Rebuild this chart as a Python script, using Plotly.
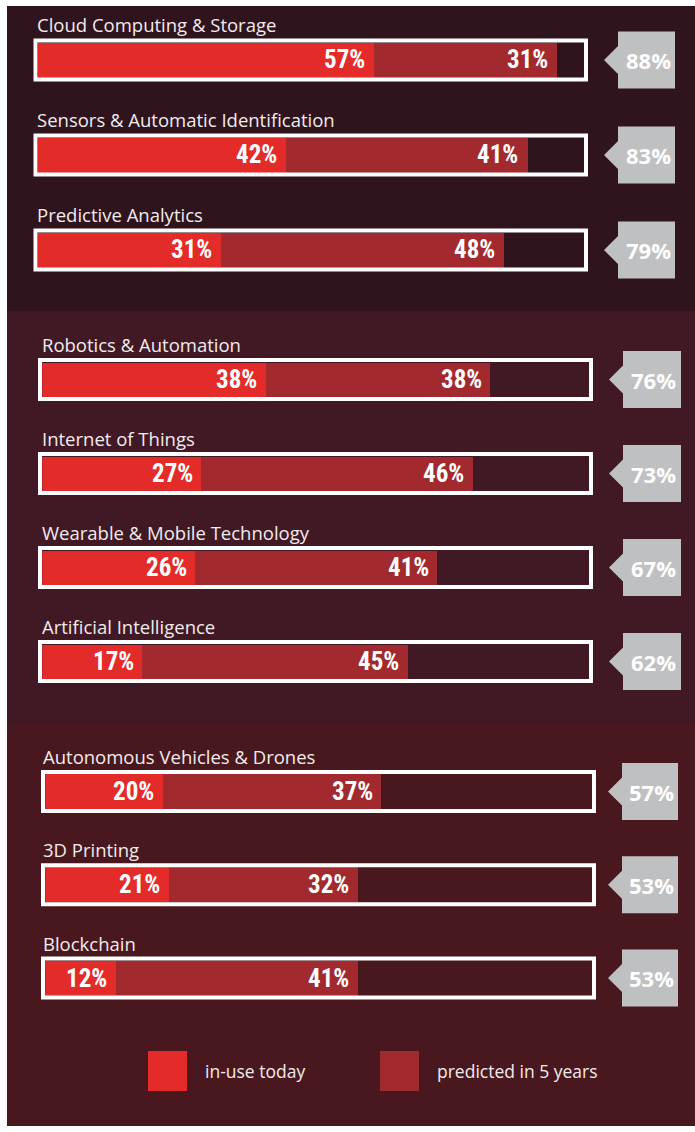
import plotly.graph_objects as go

# ---------------- data ----------------
categories = [
    "Cloud Computing & Storage",
    "Sensors & Automatic Identification",
    "Predictive Analytics",
    "Robotics & Automation",
    "Internet of Things",
    "Wearable & Mobile Technology",
    "Artificial Intelligence",
    "Autonomous Vehicles & Drones",
    "3D Printing",
    "Blockchain",
]
in_use_today = [57, 42, 31, 38, 27, 26, 17, 20, 21, 12]
predicted_in_5_years = [31, 41, 48, 38, 46, 41, 45, 37, 32, 41]
totals = [88, 83, 79, 76, 73, 67, 62, 57, 53, 53]
group_sizes = [3, 4, 3]
legend_labels = ["in-use today", "predicted in 5 years"]

# ---------------- style / geometry ----------------
W, H = 695, 1132
RED = "#e32b2a"
DARK_RED = "#a2292d"
TAG_GREY = "#bfc0c2"
LABEL_COLOR = "#f1ebec"
PX_PER_PCT = 5.9
BAR_PX = 35
LABEL_FONT = "Open Sans, Noto Sans, sans-serif"
VALUE_FONT = "Liberation Sans Narrow, Roboto Condensed, Arial Narrow, Roboto, sans-serif"

panels = [
    dict(top=6, bottom=311, bg="#2f141e", box_l=33.5, box_r=588, label_x=35,
         tag_l=618, tag_r=675, first=60, step=95),
    dict(top=311, bottom=724, bg="#401925", box_l=38, box_r=593, label_x=39.5,
         tag_l=623, tag_r=681, first=379.5, step=94),
    dict(top=724, bottom=1126, bg="#49181e", box_l=41, box_r=596, label_x=41,
         tag_l=622, tag_r=678, first=791.5, step=93.3),
]


def fx(px):
    return px / W


def fy(py):
    return 1 - py / H


fig = go.Figure()
shapes = []
annotations = []

start = 0
for i, (p, n) in enumerate(zip(panels, group_sizes)):
    k = "" if i == 0 else str(i + 1)
    cats = categories[start:start + n]
    a = in_use_today[start:start + n]
    b = predicted_in_5_years[start:start + n]
    t = totals[start:start + n]
    start += n

    inner_l = p["box_l"] + 4.2
    xdom = [fx(inner_l), fx(inner_l + 100 * PX_PER_PCT)]
    top_px = p["first"] - p["step"] / 2
    bot_px = p["first"] + (n - 1) * p["step"] + p["step"] / 2
    ydom = [fy(bot_px), fy(top_px)]

    fig.add_trace(go.Bar(x=a, y=cats, orientation="h", marker=dict(color=RED, line=dict(width=0)),
                         width=BAR_PX / p["step"], xaxis="x" + k, yaxis="y" + k,
                         showlegend=False, hoverinfo="skip", name=legend_labels[0]))
    fig.add_trace(go.Bar(x=b, y=cats, orientation="h", marker=dict(color=DARK_RED, line=dict(width=0)),
                         width=BAR_PX / p["step"], xaxis="x" + k, yaxis="y" + k,
                         showlegend=False, hoverinfo="skip", name=legend_labels[1]))

    fig.update_layout({
        "xaxis" + k: dict(domain=xdom, range=[0, 100], visible=False, fixedrange=True,
                          anchor="y" + k),
        "yaxis" + k: dict(domain=ydom, type="category", categoryorder="array",
                          categoryarray=cats, range=[n - 0.5, -0.5], visible=False,
                          fixedrange=True, anchor="x" + k),
    })

    # panel background
    shapes.append(dict(type="rect", xref="paper", yref="paper", x0=fx(7), x1=1,
                       y0=fy(p["bottom"]), y1=fy(p["top"]), fillcolor=p["bg"],
                       line=dict(width=0), layer="below"))

    for c, va, vb, vt in zip(cats, a, b, t):
        # white frame around the bar
        shapes.append(dict(type="rect", xref="paper", yref="y" + k, ysizemode="pixel",
                           yanchor=c, y0=-19.5, y1=19.5,
                           x0=fx(p["box_l"] + 2), x1=fx(p["box_r"] - 2),
                           line=dict(color="white", width=4), fillcolor="rgba(0,0,0,0)",
                           layer="above"))
        # grey tag with arrow
        tw = p["tag_r"] - p["tag_l"]
        shapes.append(dict(type="path", xref="paper", yref="y" + k,
                           xsizemode="pixel", ysizemode="pixel",
                           xanchor=fx(p["tag_l"]), yanchor=c,
                           path=f"M0,-28.5 H{tw} V28.5 H0 V14 L-14,0 L0,-14 Z",
                           fillcolor=TAG_GREY, line=dict(width=0), layer="above"))
        annotations.append(dict(xref="paper", yref="y" + k, x=fx((p["tag_l"] + p["tag_r"]) / 2 + 1.5),
                                y=c, text=f"{vt}%", showarrow=False, xanchor="center",
                                yanchor="middle",
                                font=dict(family=LABEL_FONT, size=22, color="white", weight="bold")))
        # category label above the frame
        annotations.append(dict(xref="paper", yref="y" + k, x=fx(p["label_x"]), y=c,
                                yshift=35, text=c, showarrow=False, xanchor="left",
                                yanchor="middle",
                                font=dict(family=LABEL_FONT, size=18.5, color=LABEL_COLOR)))
        # value labels at the end of each segment
        annotations.append(dict(xref="x" + k, yref="y" + k, x=va, y=c, xshift=-7,
                                text=f"{va}%", showarrow=False, xanchor="right",
                                yanchor="middle",
                                font=dict(family=VALUE_FONT, size=25, color="white", weight="bold")))
        annotations.append(dict(xref="x" + k, yref="y" + k, x=va + vb, y=c, xshift=-7,
                                text=f"{vb}%", showarrow=False, xanchor="right",
                                yanchor="middle",
                                font=dict(family=VALUE_FONT, size=25, color="white", weight="bold")))

# legend drawn manually (large swatches)
legend_items = [(148, RED, 203), (380, DARK_RED, 435)]
for (sx, col, tx), lab in zip(legend_items, legend_labels):
    shapes.append(dict(type="rect", xref="paper", yref="paper", x0=fx(sx), x1=fx(sx + 39),
                       y0=fy(1091), y1=fy(1051), fillcolor=col, line=dict(width=0)))
    annotations.append(dict(xref="paper", yref="paper", x=fx(tx), y=fy(1071), text=lab,
                            showarrow=False, xanchor="left", yanchor="middle",
                            font=dict(family=LABEL_FONT, size=17.5, color=LABEL_COLOR)))

fig.update_layout(
    width=W, height=H,
    margin=dict(l=0, r=0, t=0, b=0),
    paper_bgcolor="white",
    plot_bgcolor="rgba(0,0,0,0)",
    barmode="stack",
    bargap=0,
    showlegend=False,
    shapes=shapes,
    annotations=annotations,
)

fig.write_html("out.html", config={"displayModeBar": False},
               post_script="document.body.style.margin='0';")
